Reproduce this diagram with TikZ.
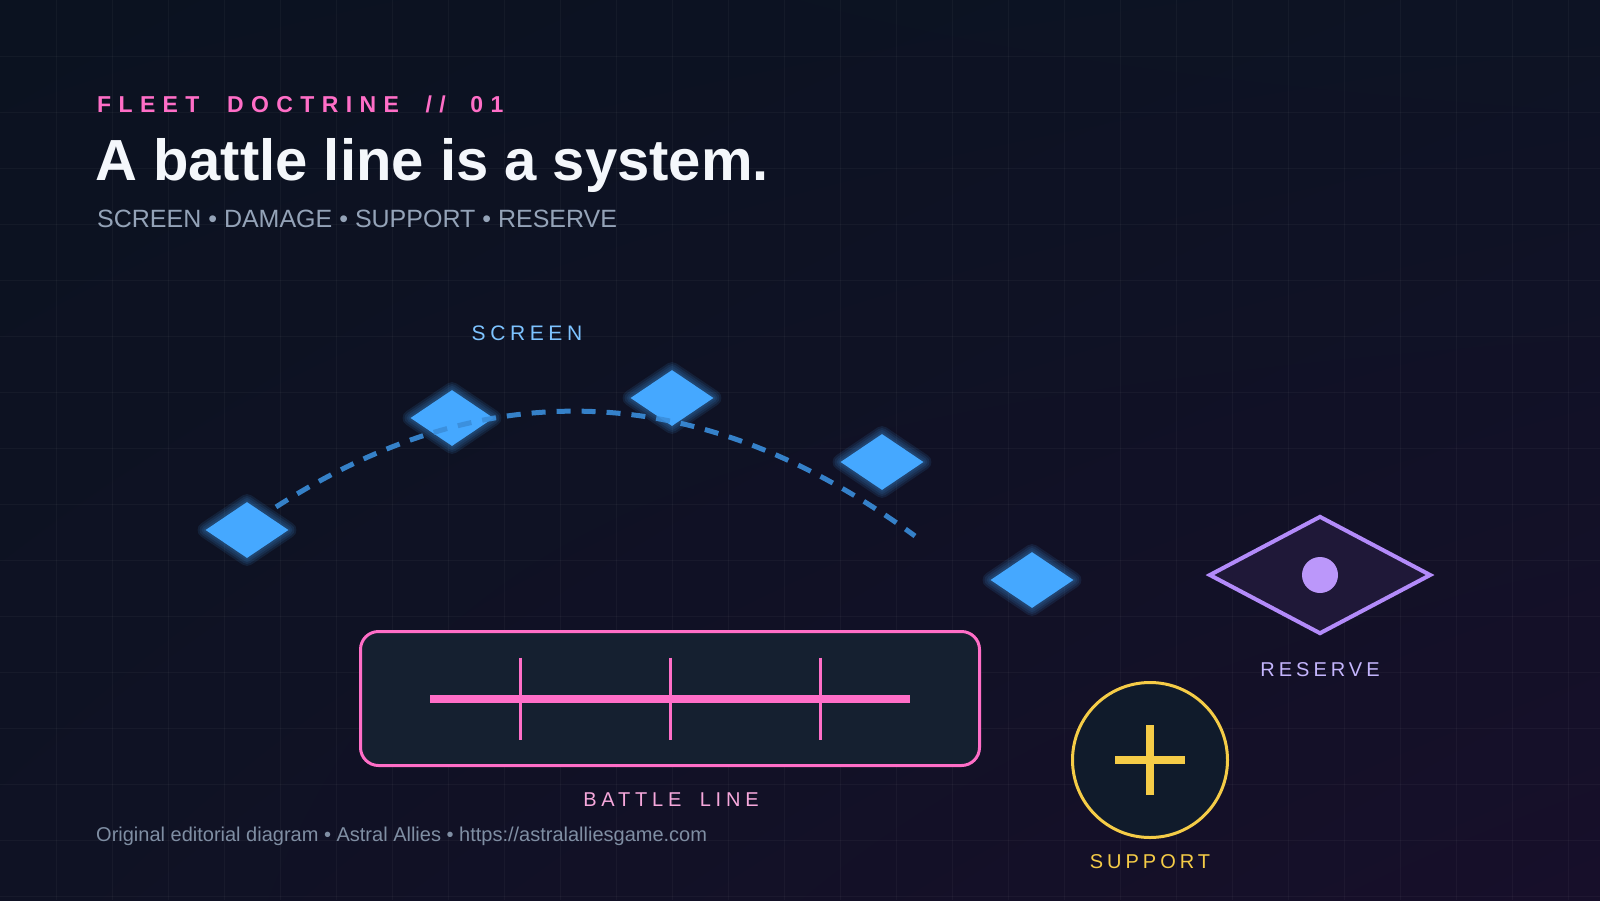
\documentclass[tikz,border=0pt]{standalone}
\usepackage{fontspec}
\setmainfont{Liberation Sans}
\usetikzlibrary{shapes.geometric}
\usetikzlibrary{shadings}

\definecolor{bgtl}{HTML}{0B1220}
\definecolor{bgtr}{HTML}{0D1324}
\definecolor{bgbl}{HTML}{0F1224}
\definecolor{bgbr}{HTML}{170F2A}
\definecolor{hotpink}{HTML}{FF6EC7}
\definecolor{softpink}{HTML}{F7A8DC}
\definecolor{titlewhite}{HTML}{F4F7FB}
\definecolor{subgrey}{HTML}{94A3B8}
\definecolor{footgrey}{HTML}{7F8EA3}
\definecolor{shipblue}{HTML}{45A8FF}
\definecolor{arcblue}{HTML}{3A8EDB}
\definecolor{screentext}{HTML}{7DC3FF}
\definecolor{linefill}{HTML}{152030}
\definecolor{lavender}{HTML}{B38BFA}
\definecolor{reservefill}{HTML}{1F1838}
\definecolor{reservetext}{HTML}{C4B5FD}
\definecolor{gold}{HTML}{F5CC47}
\definecolor{supportfill}{HTML}{101B2B}

\newcommand{\wordgap}[1]{\hspace{#1pt}}

\tikzset{
  halo/.style={preaction={draw=shipblue, line width=#1, draw opacity=0.10, line join=round}},
  screenship/.style={diamond, fill=shipblue, inner sep=0pt, minimum width=83, minimum height=56,
    halo=16, halo=12, halo=8, halo=4},
  tag/.style={anchor=base, inner sep=0pt, font=\fontsize{20}{24}\selectfont\addfontfeature{LetterSpace=20}},
  headline/.style={anchor=base west, inner sep=0pt}
}

\begin{document}
\begin{tikzpicture}[x=1pt, y=-1pt]
	\useasboundingbox (0,0) rectangle (1600,900);
	\shade[upper left=bgtl, upper right=bgtr, lower left=bgbl, lower right=bgbr] (0,0) rectangle (1600,900);
	\begin{scope}[draw=white, draw opacity=0.035, line width=1]
		\foreach \i in {1,...,28} \draw (56*\i,0) -- (56*\i,900);
		\foreach \j in {1,...,16} \draw (0,56*\j) -- (1600,56*\j);
	\end{scope}

	% heading
	\node[headline, text=hotpink, font=\fontsize{23}{28}\selectfont\bfseries\addfontfeature{LetterSpace=32}] (eyebrow) at (97,112)
		{FLEET\wordgap{14} DOCTRINE\wordgap{13} //\wordgap{11} 01};
	\node[headline, text=titlewhite, font=\fontsize{58}{64}\selectfont\bfseries] (title) at (95,180) {A battle line is a system.};
	\node[headline, text=subgrey, font=\fontsize{25}{30}\selectfont] (subtitle) at (97,227) {SCREEN • DAMAGE • SUPPORT • RESERVE};

	% screen
	\node[screenship] (s1) at (247,530) {};
	\node[screenship] (s2) at (452,418) {};
	\node[screenship] (s3) at (672,398) {};
	\node[screenship] (s4) at (882,462) {};
	\node[screenship] (s5) at (1032,580) {};
	\coordinate (arcstart) at (276,507);
	\coordinate (arcend) at (915,536);
	\draw[arcblue, draw opacity=0.9, line width=5, dash pattern=on 14pt off 11pt]
		(arcstart) .. controls (489,370) and (702,380) .. (arcend);
	\node[tag, text=screentext, font=\fontsize{21}{24}\selectfont\addfontfeature{LetterSpace=22}] (screenlbl) at (527,340) {SCREEN};

	% battle line
	\node[draw=hotpink, fill=linefill, line width=3, rounded corners=18, minimum width=619, minimum height=134] (battle) at (670,698.5) {};
	\draw[hotpink, line width=8] ([xshift=-240]battle.center) -- ([xshift=240]battle.center);
	\draw[hotpink, line width=3] ([xshift=-150,yshift=41]battle.center) -- ([xshift=-150,yshift=-41]battle.center);
	\draw[hotpink, line width=3] ([yshift=41]battle.center) -- ([yshift=-41]battle.center);
	\draw[hotpink, line width=3] ([xshift=150,yshift=41]battle.center) -- ([xshift=150,yshift=-41]battle.center);
	\node[tag, text=softpink, font=\fontsize{20}{24}\selectfont\addfontfeature{LetterSpace=24}] (battlelbl) at (671,806) {BATTLE\wordgap{8} LINE};

	% reserve
	\node[diamond, draw=lavender, fill=reservefill, line width=4, inner sep=0pt, minimum width=222, minimum height=118] (reserve) at (1320,575) {};
	\node[circle, fill=lavender!90!white, inner sep=0pt, minimum size=36] (reservedot) at (reserve.center) {};
	\node[tag, text=reservetext] (reservelbl) at (1320,676) {RESERVE};

	% support
	\node[circle, draw=gold, fill=supportfill, line width=3, inner sep=0pt, minimum size=155] (support) at (1150,760) {};
	\draw[gold, line width=8] ([xshift=-35]support.center) -- ([xshift=35]support.center);
	\draw[gold, line width=8] ([yshift=35]support.center) -- ([yshift=-35]support.center);
	\node[tag, text=gold] (supportlbl) at (1150,868) {SUPPORT};

	\node[headline, text=footgrey, font=\fontsize{20}{24}\selectfont] (footer) at (96,841) {Original editorial diagram • Astral Allies • https://astralalliesgame.com};
\end{tikzpicture}
\end{document}
